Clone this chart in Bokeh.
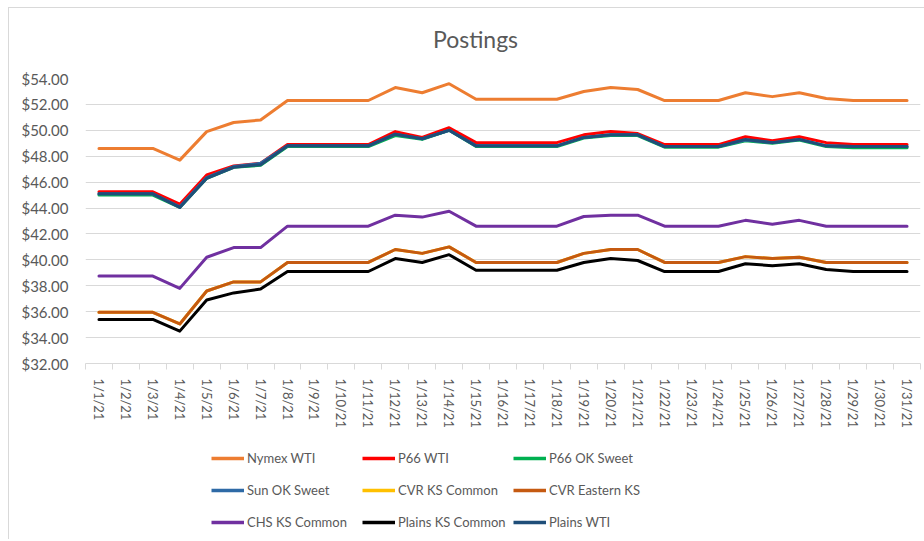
from bokeh.plotting import figure
from bokeh.layouts import column
from bokeh.models import (ColumnDataSource, Legend, LegendItem, FixedTicker,
                          NumeralTickFormatter, Range1d, Label)
from bokeh.embed import file_html
from bokeh.resources import INLINE

title_text = "Postings"
dates = [f"1/{d}/21" for d in range(1, 32)]

nymex_wti = [48.6, 48.6, 48.6, 47.7, 49.9, 50.6, 50.8, 52.3, 52.3, 52.3, 52.3,
             53.3, 52.9, 53.6, 52.4, 52.4, 52.4, 52.4, 53.0, 53.3, 53.15,
             52.3, 52.3, 52.3, 52.9, 52.6, 52.9, 52.45, 52.3, 52.3, 52.3]
p66_wti = [45.25, 45.25, 45.25, 44.3, 46.55, 47.25, 47.45, 48.9, 48.9, 48.9, 48.9,
           49.9, 49.45, 50.2, 49.05, 49.05, 49.05, 49.05, 49.65, 49.9, 49.75,
           48.9, 48.9, 48.9, 49.5, 49.2, 49.5, 49.05, 48.9, 48.9, 48.9]
p66_ok_sweet = [45.0, 45.0, 45.0, 44.05, 46.3, 47.15, 47.3, 48.75, 48.75, 48.75, 48.75,
                49.6, 49.3, 50.0, 48.75, 48.75, 48.75, 48.75, 49.4, 49.6, 49.6,
                48.7, 48.7, 48.7, 49.2, 49.0, 49.25, 48.75, 48.65, 48.65, 48.65]
sun_ok_sweet = [45.1, 45.1, 45.1, 44.1, 46.35, 47.2, 47.45, 48.8, 48.8, 48.8, 48.8,
                49.7, 49.35, 50.0, 48.8, 48.8, 48.8, 48.8, 49.45, 49.65, 49.65,
                48.75, 48.75, 48.75, 49.25, 49.05, 49.3, 48.8, 48.75, 48.75, 48.75]
cvr_ks_common = [35.95, 35.95, 35.95, 35.05, 37.6, 38.3, 38.3, 39.8, 39.8, 39.8, 39.8,
                 40.8, 40.5, 41.0, 39.8, 39.8, 39.8, 39.8, 40.5, 40.8, 40.8,
                 39.8, 39.8, 39.8, 40.25, 40.1, 40.2, 39.8, 39.8, 39.8, 39.8]
cvr_eastern_ks = [35.95, 35.95, 35.95, 35.05, 37.6, 38.3, 38.3, 39.8, 39.8, 39.8, 39.8,
                  40.8, 40.5, 41.0, 39.8, 39.8, 39.8, 39.8, 40.5, 40.8, 40.8,
                  39.8, 39.8, 39.8, 40.25, 40.1, 40.2, 39.8, 39.8, 39.8, 39.8]
chs_ks_common = [38.75, 38.75, 38.75, 37.8, 40.2, 40.95, 40.95, 42.6, 42.6, 42.6, 42.6,
                 43.45, 43.3, 43.75, 42.6, 42.6, 42.6, 42.6, 43.35, 43.45, 43.45,
                 42.6, 42.6, 42.6, 43.05, 42.75, 43.05, 42.6, 42.6, 42.6, 42.6]
plains_ks_common = [35.4, 35.4, 35.4, 34.5, 36.9, 37.45, 37.75, 39.1, 39.1, 39.1, 39.1,
                    40.1, 39.8, 40.4, 39.2, 39.2, 39.2, 39.2, 39.8, 40.1, 39.95,
                    39.1, 39.1, 39.1, 39.7, 39.55, 39.7, 39.25, 39.1, 39.1, 39.1]
plains_wti = [45.1, 45.1, 45.1, 44.05, 46.3, 47.15, 47.35, 48.8, 48.8, 48.8, 48.8,
              49.7, 49.35, 50.0, 48.8, 48.8, 48.8, 48.8, 49.45, 49.65, 49.65,
              48.75, 48.75, 48.75, 49.3, 49.05, 49.3, 48.8, 48.75, 48.75, 48.75]

series_names = ["Nymex WTI", "P66 WTI", "P66 OK Sweet", "Sun OK Sweet",
                "CVR KS Common", "CVR Eastern KS", "CHS KS Common",
                "Plains KS Common", "Plains WTI"]
series_values = [nymex_wti, p66_wti, p66_ok_sweet, sun_ok_sweet, cvr_ks_common,
                 cvr_eastern_ks, chs_ks_common, plains_ks_common, plains_wti]
series_colors = ["#ED7D31", "#FF0000", "#00B050", "#2E6AA6", "#FFC000",
                 "#C55A11", "#7030A0", "#000000", "#1F4E79"]

y_ticks = list(range(32, 55, 2))

TEXT = "#595959"
GRID = "#d9d9d9"
FONT = "Lato"

x = list(range(1, len(dates) + 1))
source = ColumnDataSource(dict(x=x, **{f"s{i}": v for i, v in enumerate(series_values)}))


def strip(height):
    f = figure(width=915, height=height, output_backend="svg", toolbar_location=None,
               title=None, min_border_left=0, min_border_right=0,
               min_border_top=0, min_border_bottom=0)
    f.axis.visible = False
    f.grid.visible = False
    f.outline_line_color = None
    return f


# ---------------- title strip ----------------
pt = strip(60)
pt.add_layout(Label(x=390, y=30, x_units="screen", y_units="screen",
                    text=title_text, text_align="center", text_baseline="middle",
                    text_font=FONT, text_font_size="23px", text_color=TEXT))

# ---------------- main chart ----------------
p = figure(width=915, height=370, output_backend="svg", toolbar_location=None,
           x_range=Range1d(0.5, len(dates) + 0.5), y_range=Range1d(32, 54),
           title=None, min_border_left=76, min_border_right=4, min_border_top=10,
           min_border_bottom=75)
p.outline_line_color = None

for i, color in enumerate(series_colors):
    p.line("x", f"s{i}", source=source, line_color=color, line_width=3,
           line_join="round", line_cap="round")

p.xaxis.ticker = FixedTicker(ticks=x, minor_ticks=[v - 0.5 for v in x] + [x[-1] + 0.5])
p.xaxis.major_label_overrides = {xx: d for xx, d in zip(x, dates)}
p.xaxis.major_label_orientation = "vertical"
p.xaxis.major_tick_line_color = None
p.xaxis.minor_tick_line_color = GRID
p.xaxis.minor_tick_out = 6
p.xaxis.minor_tick_in = 0
p.xaxis.axis_line_color = GRID
p.xaxis.major_label_text_font = FONT
p.xaxis.major_label_text_font_size = "13px"
p.xaxis.major_label_text_color = TEXT
p.xaxis.major_label_standoff = 9

p.yaxis.ticker = FixedTicker(ticks=y_ticks)
p.yaxis.formatter = NumeralTickFormatter(format="$0.00")
p.yaxis.axis_line_color = None
p.yaxis.major_tick_line_color = None
p.yaxis.minor_tick_line_color = None
p.yaxis.major_label_text_font = FONT
p.yaxis.major_label_text_font_size = "15px"
p.yaxis.major_label_text_color = TEXT
p.yaxis.major_label_standoff = 11

p.xgrid.grid_line_color = None
p.ygrid.grid_line_color = GRID
p.ygrid.grid_line_width = 1
p.ygrid.ticker = FixedTicker(ticks=y_ticks)

# ---------------- legend strip ----------------
pl = strip(101)
pl.x_range = Range1d(0.5, len(dates) + 0.5)
pl.y_range = Range1d(0, 1)   # series lie outside this strip; only legend keys show
leg_renderers = [pl.line("x", f"s{i}", source=source, line_color=c, line_width=3.5)
                 for i, c in enumerate(series_colors)]
items = [LegendItem(label=n, renderers=[r]) for n, r in zip(series_names, leg_renderers)]
legend = Legend(items=items, orientation="horizontal", ncols=3,
                location=(126, 1), border_line_color=None,
                background_fill_alpha=0, padding=0, margin=0, spacing=0,
                glyph_width=33, glyph_height=32, label_height=32,
                label_width=115, label_standoff=3,
                label_text_font=FONT, label_text_font_size="13px",
                label_text_color=TEXT)
pl.add_layout(legend, "center")

layout = column(pt, p, pl, spacing=0)
layout.margin = (7, 0, 0, 8)
layout.styles = {"border-top": f"1px solid {GRID}", "border-left": f"1px solid {GRID}"}

open("out.html", "w").write(file_html(layout, INLINE))
